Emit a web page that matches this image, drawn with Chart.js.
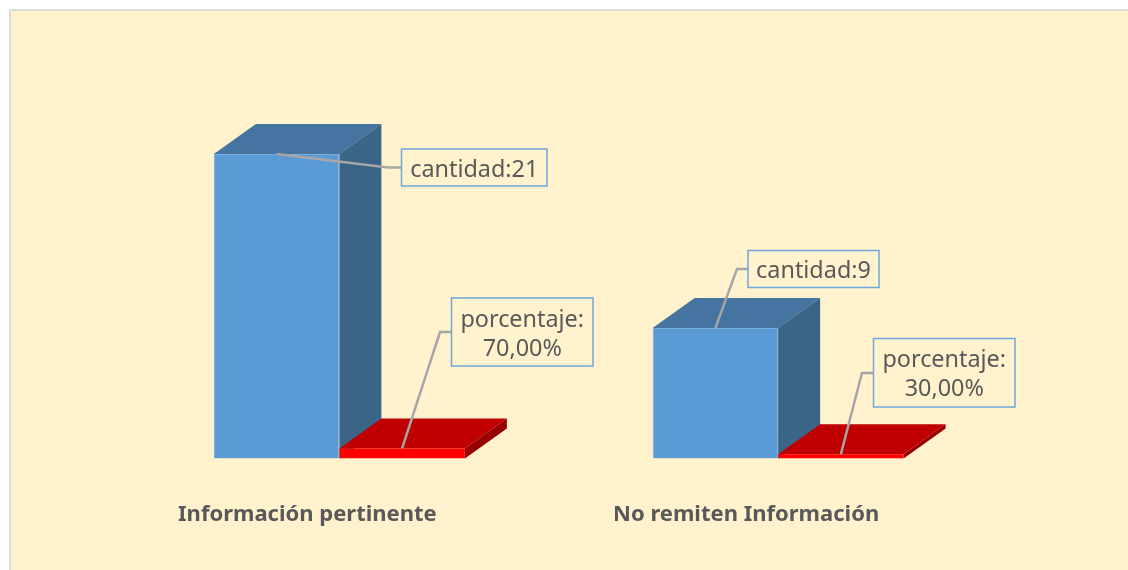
<!DOCTYPE html>
<html>
<head>
<meta charset="utf-8">
<style>
  html, body { margin: 0; padding: 0; background: #fff; overflow: hidden; }
  canvas { display: block; }
</style>
<script src="https://cdn.jsdelivr.net/npm/chart.js@4"></script>
</head>
<body>
<canvas id="myChart" width="1128" height="570"></canvas>
<script>
const categories = ['Información pertinente', 'No remiten Información'];
const cantidad = [21, 9];
const porcentaje = [0.7, 0.3];

const fontName = '"Noto Sans", sans-serif';
const textColor = '#595959';
const depthX = 42;
const depthY = 30;

// colours per dataset: front, top, side
const faces = [
  { front: '#5b9bd5', top: '#44749f', side: '#3a6587', edge: '#7aaedd' },
  { front: '#ff0000', top: '#c00000', side: '#990000', edge: '#ff0000' }
];

// label boxes: x, y, w, h and the elbow of the leader line, per dataset then category
const boxes = [
  [
    { x: 401.5, y: 149, w: 145.5, h: 37, elbowX: 388, elbowY: 167.5 },
    { x: 748, y: 250.5, w: 131, h: 37, elbowX: 737, elbowY: 269 }
  ],
  [
    { x: 451.5, y: 298, w: 141.5, h: 68, elbowX: 440, elbowY: 332 },
    { x: 873.5, y: 338.5, w: 141.5, h: 68.5, elbowX: 862, elbowY: 373 }
  ]
];

function polygon(ctx, pts, color) {
  ctx.fillStyle = color;
  ctx.beginPath();
  pts.forEach((p, i) => i ? ctx.lineTo(p[0], p[1]) : ctx.moveTo(p[0], p[1]));
  ctx.closePath();
  ctx.fill();
}

function labelLines(datasetIndex, index) {
  if (datasetIndex === 0) return ['cantidad:' + cantidad[index]];
  return ['porcentaje:', (porcentaje[index] * 100).toFixed(2).replace('.', ',') + '%'];
}

const framePlugin = {
  id: 'frame',
  beforeDraw(chart) {
    const ctx = chart.ctx;
    ctx.save();
    ctx.fillStyle = '#dcdcdc';
    ctx.fillRect(9, 9, chart.width - 9, chart.height - 9);
    ctx.fillStyle = '#fff2cc';
    ctx.fillRect(11, 11, chart.width - 11, chart.height - 11);
    ctx.restore();
  }
};

// the 3d look: top and side faces hang off the real bar elements.
// chart.js paints the last dataset first, so faces go in here, blue then red
const depthPlugin = {
  id: 'depth',
  beforeDatasetsDraw(chart) {
    const ctx = chart.ctx;
    ctx.save();
    chart.data.datasets.forEach((ds, d) => {
      const f = faces[d];
      chart.getDatasetMeta(d).data.forEach(bar => {
        const l = bar.x - bar.width / 2;
        const r = bar.x + bar.width / 2;
        polygon(ctx, [[l, bar.y], [l + depthX, bar.y - depthY], [r + depthX, bar.y - depthY], [r, bar.y]], f.top);
        polygon(ctx, [[r, bar.y], [r + depthX, bar.y - depthY], [r + depthX, bar.base - depthY], [r, bar.base]], f.side);
      });
    });
    ctx.restore();
  }
};

const calloutPlugin = {
  id: 'callouts',
  afterDatasetsDraw(chart) {
    const ctx = chart.ctx;
    ctx.save();
    chart.data.datasets.forEach((ds, d) => {
      chart.getDatasetMeta(d).data.forEach((bar, i) => {
        const b = boxes[d][i];
        ctx.strokeStyle = '#a6a6a6';
        ctx.lineWidth = 2.5;
        ctx.beginPath();
        ctx.moveTo(bar.x, bar.y);
        ctx.lineTo(b.elbowX, b.elbowY);
        ctx.lineTo(b.x, b.elbowY);
        ctx.stroke();

        ctx.fillStyle = '#fff2cc';
        ctx.fillRect(b.x, b.y, b.w, b.h);
        ctx.strokeStyle = '#6fa8dc';
        ctx.lineWidth = 1.5;
        ctx.strokeRect(b.x, b.y, b.w, b.h);

        const lines = labelLines(d, i);
        ctx.fillStyle = textColor;
        ctx.font = '23.4px ' + fontName;
        ctx.textAlign = 'center';
        ctx.textBaseline = 'middle';
        const cy = b.y + b.h / 2;
        lines.forEach((t, n) => {
          ctx.fillText(t, b.x + b.w / 2, cy + (n - (lines.length - 1) / 2) * 29 + 2.5);
        });
      });
    });
    ctx.restore();
  }
};

const ctx = document.getElementById('myChart').getContext('2d');

new Chart(ctx, {
  type: 'bar',
  data: {
    labels: categories,
    datasets: [
      {
        label: 'cantidad',
        data: cantidad,
        backgroundColor: faces[0].front,
        borderColor: faces[0].edge,
        borderWidth: 1,
        categoryPercentage: 0.572,
        barPercentage: 1
      },
      {
        label: 'porcentaje',
        data: porcentaje,
        backgroundColor: faces[1].front,
        borderColor: faces[1].edge,
        borderWidth: 0,
        categoryPercentage: 0.572,
        barPercentage: 1
      }
    ]
  },
  options: {
    responsive: false,
    animation: false,
    layout: { padding: { left: 120, right: 130.5, top: 154, bottom: 7 } },
    plugins: {
      legend: { display: false },
      tooltip: { enabled: false }
    },
    scales: {
      x: {
        grid: { display: false },
        border: { display: false },
        ticks: {
          color: textColor,
          font: { family: fontName, size: 22, weight: 'bold' },
          padding: 35,
          labelOffset: -32,
          maxRotation: 0
        }
      },
      y: { display: false, min: 0, max: 21 }
    }
  },
  plugins: [framePlugin, depthPlugin, calloutPlugin]
});
</script>
</body>
</html>
